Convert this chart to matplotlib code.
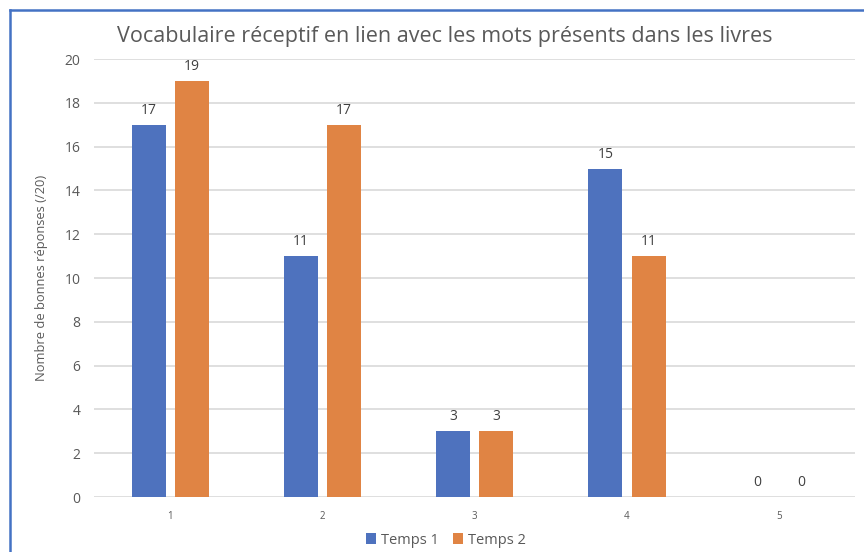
import numpy as np
import matplotlib
matplotlib.use('Agg')
import matplotlib.pyplot as plt
from matplotlib.lines import Line2D

categories = ['1', '2', '3', '4', '5']
temps1 = [17, 11, 3, 15, 0]
temps2 = [19, 17, 3, 11, 0]
series_names = ['Temps 1', 'Temps 2']
title = 'Vocabulaire réceptif en lien avec les mots présents dans les livres'
ylabel = 'Nombre de bonnes réponses (/20)'

blue = '#4E72BE'
orange = '#E08444'
grey = '#595959'

plt.rcParams['font.family'] = ['Open Sans', 'DejaVu Sans']

fig = plt.figure(figsize=(8.64, 5.52), dpi=100)
ax = fig.add_axes([0.109, 0.0996, 0.881, 0.7934])

x = np.arange(len(categories))
w = 0.224
off = 0.142
b1 = ax.bar(x - off, temps1, w, color=blue, label=series_names[0], zorder=3)
b2 = ax.bar(x + off, temps2, w, color=orange, label=series_names[1], zorder=3)
for bars in (b1, b2):
    ax.bar_label(bars, padding=5, fontsize=10, color='#404040')

ax.set_xlim(-0.5, len(categories) - 0.5)
ax.set_ylim(0, 20)
ax.set_yticks(np.arange(0, 21, 2))
ax.set_xticks(x)
ax.set_xticklabels(categories, fontsize=7, color=grey)
ax.tick_params(axis='y', labelsize=10, labelcolor=grey, length=0, pad=10)
ax.tick_params(axis='x', length=0, pad=10)
ax.yaxis.grid(True, color='#D9D9D9', linewidth=1.2, zorder=0)
for s in ax.spines.values():
    s.set_visible(False)
ax.set_ylabel(ylabel, fontsize=9.3, color=grey, labelpad=12)

fig.text(0.515, 0.933, title, ha='center', va='center', fontsize=15.5, color=grey)

fig.legend(loc='center', bbox_to_anchor=(0.516, 1 - 540 / 552), ncol=2, frameon=False,
           fontsize=10.5, handlelength=0.7, handleheight=0.7, handletextpad=0.3,
           columnspacing=1.0, labelcolor=grey, borderaxespad=0, borderpad=0)

# border of the chart frame (top and left only visible)
fig.add_artist(Line2D([10 / 864, 1], [1 - 10 / 552, 1 - 10 / 552], color='#4472C4', lw=1.8, transform=fig.transFigure))
fig.add_artist(Line2D([10 / 864, 10 / 864], [0, 1 - 10 / 552], color='#4472C4', lw=1.8, transform=fig.transFigure))

fig.savefig('out.png', dpi=100)
